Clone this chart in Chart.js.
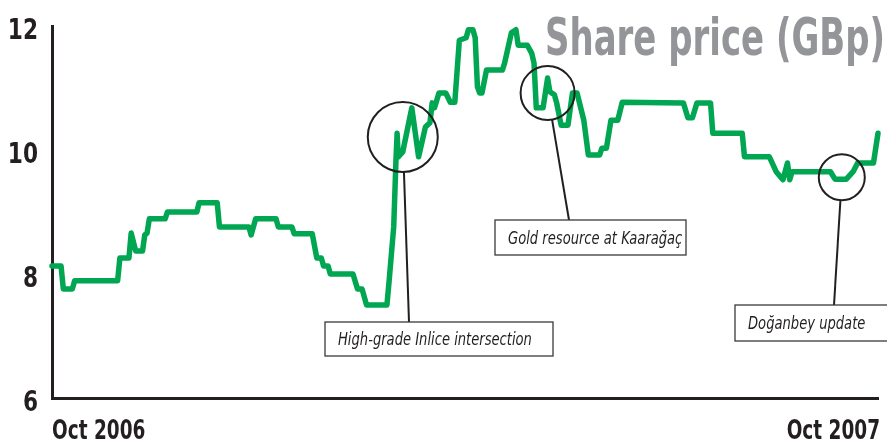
<!DOCTYPE html>
<html>
<head>
<meta charset="utf-8">
<script src="https://cdn.jsdelivr.net/npm/chart.js@4"></script>
<style>
  html, body { margin: 0; padding: 0; background: #fff; }
  #wrap { width: 887px; height: 442px; position: relative; }
</style>
</head>
<body>
<div id="wrap"><canvas id="chart" width="887" height="442"></canvas></div>
<script>
// Share price (x = days since start of Oct 2006)
const days = [0, 4, 5, 9, 10, 29, 30, 34, 35, 37, 40, 41, 42, 43, 50, 51, 64, 65, 73, 74,
    87, 88, 90, 99, 100, 106, 107, 115, 117, 119, 120, 122, 123, 133, 135, 137, 139, 148, 149, 151,
    152, 152.5, 153, 155, 159, 162, 165, 167, 168, 169, 171, 174, 176, 178, 180, 183, 184, 186, 187, 188,
    189, 190, 192, 199, 200, 203, 205, 206, 210, 212, 213, 214, 217, 219, 220, 222, 223, 225, 228, 230,
    232, 235, 237, 242, 243, 245, 247, 250, 252, 279, 281, 283, 285, 291, 292, 305, 306, 317, 320, 323,
    325, 326, 327, 344, 346, 351, 354, 356, 363, 365];
const prices = [8.13, 8.13, 7.76, 7.76, 7.89, 7.89, 8.26, 8.26, 8.66, 8.37, 8.37, 8.63, 8.66, 8.89, 8.89, 9.00, 9.00, 9.15, 9.15, 8.76,
    8.76, 8.63, 8.89, 8.89, 8.76, 8.76, 8.65, 8.65, 8.26, 8.26, 8.13, 8.13, 8.00, 8.00, 7.76, 7.76, 7.50, 7.50, 7.90, 8.76,
    9.84, 10.27, 9.89, 9.97, 10.68, 9.89, 10.37, 10.44, 10.76, 10.68, 10.92, 10.92, 10.77, 10.77, 11.77, 11.81, 11.94, 11.94, 11.81, 11.02,
    10.92, 10.92, 11.29, 11.29, 11.40, 11.89, 11.94, 11.69, 11.69, 11.56, 11.40, 10.68, 10.68, 11.16, 10.94, 10.89, 10.76, 10.40, 10.40, 10.92,
    10.92, 10.48, 9.92, 9.92, 10.03, 10.03, 10.48, 10.48, 10.77, 10.76, 10.52, 10.52, 10.76, 10.76, 10.27, 10.27, 9.89, 9.89, 9.65, 9.52,
    9.79, 9.52, 9.65, 9.65, 9.53, 9.53, 9.65, 9.79, 9.79, 10.27];

const yTicks = [6, 8, 10, 12];
const xTickDays = [0, 365];
const xTickLabels = ['Oct 2006', 'Oct 2007'];

// events marked with a circle on the line
const noteLabels = ['High-grade Inlice intersection', 'Gold resource at Kaarağaç', 'Doğanbey update'];
const noteDays = [155, 219, 349];
const notePrices = [10.21, 10.92, 9.56];

const INK = '#231f20';
const GREEN = '#00a651';
const FONT = '"DejaVu Sans Condensed", "DejaVu Sans", sans-serif';

// circle radius, leader line end and label box (pixels)
const noteLayout = [
    { r: 35, lineTo: [409, 322], box: [325, 322, 228, 34] },
    { r: 27, lineTo: [569, 220], box: [495, 220, 191, 35] },
    { r: 23, lineTo: [834, 305], box: [735, 305, 160, 36] }
];

// the original uses a condensed face, so squeeze the text horizontally
function squeezeText(ctx, text, x, y, factor, align) {
    const w = ctx.measureText(text).width * factor;
    let left = x;
    if (align === 'right') left = x - w;
    else if (align === 'center') left = x - w / 2;
    ctx.save();
    ctx.textAlign = 'left';
    ctx.translate(left, y);
    ctx.scale(factor, 1);
    ctx.fillText(text, 0, 0);
    ctx.restore();
}

const textPlugin = {
    id: 'texts',
    afterDraw(chart) {
        const { ctx, scales: { x, y } } = chart;
        ctx.save();
        ctx.fillStyle = INK;
        ctx.textBaseline = 'alphabetic';

        // y axis tick labels
        ctx.font = 'bold 28px ' + FONT;
        y.ticks.forEach(t => {
            squeezeText(ctx, String(t.value), 38, y.getPixelForValue(t.value) + 13, 0.86, 'right');
        });

        // x axis tick labels
        ctx.font = 'bold 26px ' + FONT;
        x.ticks.forEach((t, i) => {
            const px = x.getPixelForValue(t.value);
            squeezeText(ctx, xTickLabels[i], i === 0 ? px : px + 2, 439, 0.79, i === 0 ? 'left' : 'right');
        });

        // event notes
        noteLabels.forEach((label, i) => {
            const lay = noteLayout[i];
            const cx = x.getPixelForValue(noteDays[i]);
            const cy = y.getPixelForValue(notePrices[i]);
            ctx.strokeStyle = INK;
            ctx.lineWidth = 2;
            ctx.beginPath();
            ctx.arc(cx, cy, lay.r, 0, Math.PI * 2);
            ctx.stroke();

            const ang = Math.atan2(lay.lineTo[1] - cy, lay.lineTo[0] - cx);
            ctx.beginPath();
            ctx.moveTo(cx + Math.cos(ang) * lay.r, cy + Math.sin(ang) * lay.r);
            ctx.lineTo(lay.lineTo[0], lay.lineTo[1]);
            ctx.stroke();

            const [bx, by, bw, bh] = lay.box;
            ctx.fillStyle = '#fff';
            ctx.fillRect(bx, by, bw, bh);
            ctx.lineWidth = 1.3;
            ctx.strokeStyle = '#3a3a3a';
            ctx.strokeRect(bx, by, bw, bh);

            ctx.fillStyle = INK;
            ctx.font = 'italic 18px ' + FONT;
            squeezeText(ctx, label, bx + 13, by + bh / 2 + 6, 0.81, 'left');
        });

        // title, top right
        ctx.font = 'bold 51px ' + FONT;
        ctx.fillStyle = '#939598';
        const title = 'Share price (GBp)';
        squeezeText(ctx, title, 545, 55, 340 / ctx.measureText(title).width, 'left');
        ctx.restore();
    }
};

new Chart(document.getElementById('chart'), {
    type: 'line',
    data: {
        datasets: [{
            data: days.map((d, i) => ({ x: d, y: prices[i] })),
            borderColor: GREEN,
            borderWidth: 5.5,
            pointRadius: 0,
            tension: 0,
            borderJoinStyle: 'round',
            borderCapStyle: 'round',
            clip: false
        }]
    },
    options: {
        responsive: false,
        animation: false,
        layout: { padding: { top: 26, right: 9, left: 0, bottom: 0 } },
        plugins: { legend: { display: false }, tooltip: { enabled: false } },
        scales: {
            x: {
                type: 'linear',
                min: 0,
                max: 365,
                afterBuildTicks: (s) => { s.ticks = xTickDays.map(v => ({ value: v })); },
                afterFit: (s) => { s.height = 44; },
                grid: { drawOnChartArea: false, drawTicks: false, color: 'transparent' },
                border: { display: true, color: INK, width: 3 },
                ticks: { display: false }
            },
            y: {
                min: 6,
                max: 12,
                afterBuildTicks: (s) => { s.ticks = yTicks.map(v => ({ value: v })); },
                afterFit: (s) => { s.width = 52; },
                grid: { drawOnChartArea: false, drawTicks: false, color: 'transparent' },
                border: { display: true, color: INK, width: 3 },
                ticks: { display: false }
            }
        }
    },
    plugins: [textPlugin]
});
</script>
</body>
</html>
